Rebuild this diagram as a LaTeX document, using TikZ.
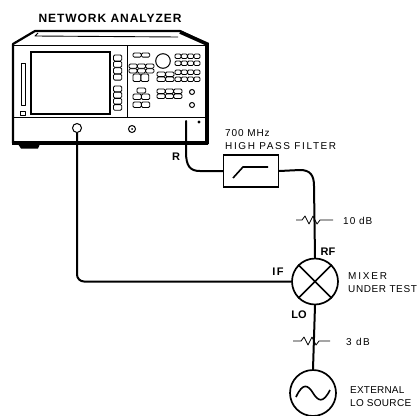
\documentclass[tikz,border=0pt]{standalone}
\usepackage{fontspec}
\setmainfont{Liberation Sans}
\newcommand{\ls}[2]{{\addfontfeature{LetterSpace=#1}#2}}
\tikzset{
 wire/.style={line width=2pt,line cap=round,line join=round},
 heavy/.style={line width=2.2pt,line join=round},
 thin/.style={line width=0.9pt,line join=round},
 btn/.style={line width=0.8pt,rounded corners=1.2pt},
 lab/.style={inner sep=0pt,font=\fontsize{10}{12.5}\selectfont,align=left,anchor=west},
 blab/.style={inner sep=0pt,font=\fontsize{11}{12}\selectfont\bfseries,anchor=center},
 circ/.style={circle,draw,line width=1.7pt,minimum size=46pt,inner sep=0pt},
 pad/.style={line width=0.8pt,line join=round}
}
% x, y, cols, rows, x step, y step
\newcommand{\btns}[6]{\foreach \i in {1,...,#3}{\foreach \j in {1,...,#4}{\draw[btn] ({#1+(\i-1)*#5},{#2+(\j-1)*#6}) rectangle +(#5-0.3,#6-0.5);}}}
\begin{document}
\begin{tikzpicture}[x=1pt,y=-1pt]
\useasboundingbox (0,0) rectangle (419,415);
\node[inner sep=0pt,font=\fontsize{12}{12}\selectfont\bfseries] (title) at (110,18) {\ls{8}{NETWORK ANALYZER}};
% analyzer
\draw[heavy] (13,143) -- (13,44) -- (35,31) -- (180,31) -- (207,44) -- (207,143) -- cycle;
\draw[thin] (14,45) -- (205,45);
\draw[thin] (38,33) -- (35,36) -- (178,37);
\draw[line width=3.6pt] (180,32) -- (207,44) -- (207,144);
\draw[line width=3.2pt] (12,143) -- (208,143);
\fill (18,144) -- (40,144) -- (38,148.5) -- (21,148.5) -- cycle;
\draw[line width=1pt] (13,117) -- (205,117);
\draw[line width=1pt] (127,46) -- (127,117);
\draw[line width=2.6pt] (31,52) rectangle (110,114);
\draw[thin] (21,63) rectangle (25,105);
\draw[thin] (20,111) rectangle (25,115);
\btns{113.5}{55}{1}{4}{8.5}{6.4}
\btns{113.5}{86}{1}{4}{8.5}{6.2}
% keypad
\btns{129}{64}{3}{2}{8.4}{4.7}
\btns{133}{53}{2}{1}{8.5}{4.6}
\btns{133}{74}{2}{1}{8}{8}
\btns{157}{72}{2}{2}{8.6}{5}
\btns{175}{54}{4}{1}{6.3}{5}
\btns{175}{61}{4}{1}{6.3}{5}
\btns{175}{70}{4}{1}{6.3}{5}
\btns{175}{77}{4}{1}{6.3}{5}
\btns{157}{89}{3}{2}{8.4}{5}
\btns{137}{88}{1}{1}{9}{5.5}
\btns{133}{94}{2}{1}{8.5}{6}
\btns{133}{102}{2}{1}{8.5}{6}
\draw[line width=1pt] (163,61) circle (7.3);
\draw[line width=1pt] (192,92) circle (2.5);
\draw[line width=1pt] (192,105) circle (2.5);
\draw[line width=1pt] (132,129) circle (3.5);
\fill (132,129) circle (1);
\draw[line width=1pt] (77,128) circle (4.5);
\draw[line width=1pt] (199,122) circle (1);
\coordinate (portA) at (77,133);
\coordinate (portR) at (186,121);
% filter
\node[draw,line width=1.5pt,minimum width=55pt,minimum height=32pt,inner sep=0pt] (filt) at (251,171) {};
\draw[line width=1.6pt] (233,178) -- (243,167) -- (268,167);
% mixer
\node[circ] (mix) at (315,281.5) {};
\draw[line width=1.7pt] (mix.north west) -- (mix.south east) (mix.north east) -- (mix.south west);
% source
\node[circ] (src) at (313,393) {};
\draw[line width=1.6pt] (296,397) .. controls (303,382) and (308,385) .. (313,393) .. controls (318,401) and (323,404) .. (330,390);
% wires
\draw[wire,rounded corners=7pt] (portA) -- (77,281.5) -- (mix.west);
\draw[wire] (portR) -- (186,152) .. controls (186,166) and (190,171) .. (200,171) -- (filt.west);
\draw[wire] (filt.east) -- (300,170) .. controls (310,170) and (314,175) .. (314,186) -- (mix.north);
\draw[wire] (mix.south) -- (src.north);
% pads
\draw[pad] (296,220) -- (302,220) -- (305,216) -- (309,224) -- (313,216) -- (317,224) -- (320,220) -- (333,220);
\draw[pad] (293,341) -- (301,341) -- (304,337) -- (308,345) -- (312,337) -- (316,345) -- (319,341) -- (330,341);
% labels
\node[lab] (l1) at (225,139.5) {\ls{9}{700 MHz}\\\ls{16}{HIGH PASS FILTER}};
\node[blab] (r) at (176,157) {R};
\node[lab] (l2) at (343,221) {\ls{10}{10 dB}};
\node[blab] (rf) at (328,252) {RF};
\node[blab] (if) at (278,272) {\ls{15}{IF}};
\node[blab] (lo) at (299,315) {LO};
\node[lab] (l3) at (348,282.5) {\ls{18}{MIXER}\\\ls{6}{UNDER TEST}};
\node[lab] (l4) at (346,342) {\ls{15}{3 dB}};
\node[lab] (l5) at (350,396.5) {\ls{2}{EXTERNAL}\\\ls{3}{LO SOURCE}};
\end{tikzpicture}
\end{document}
